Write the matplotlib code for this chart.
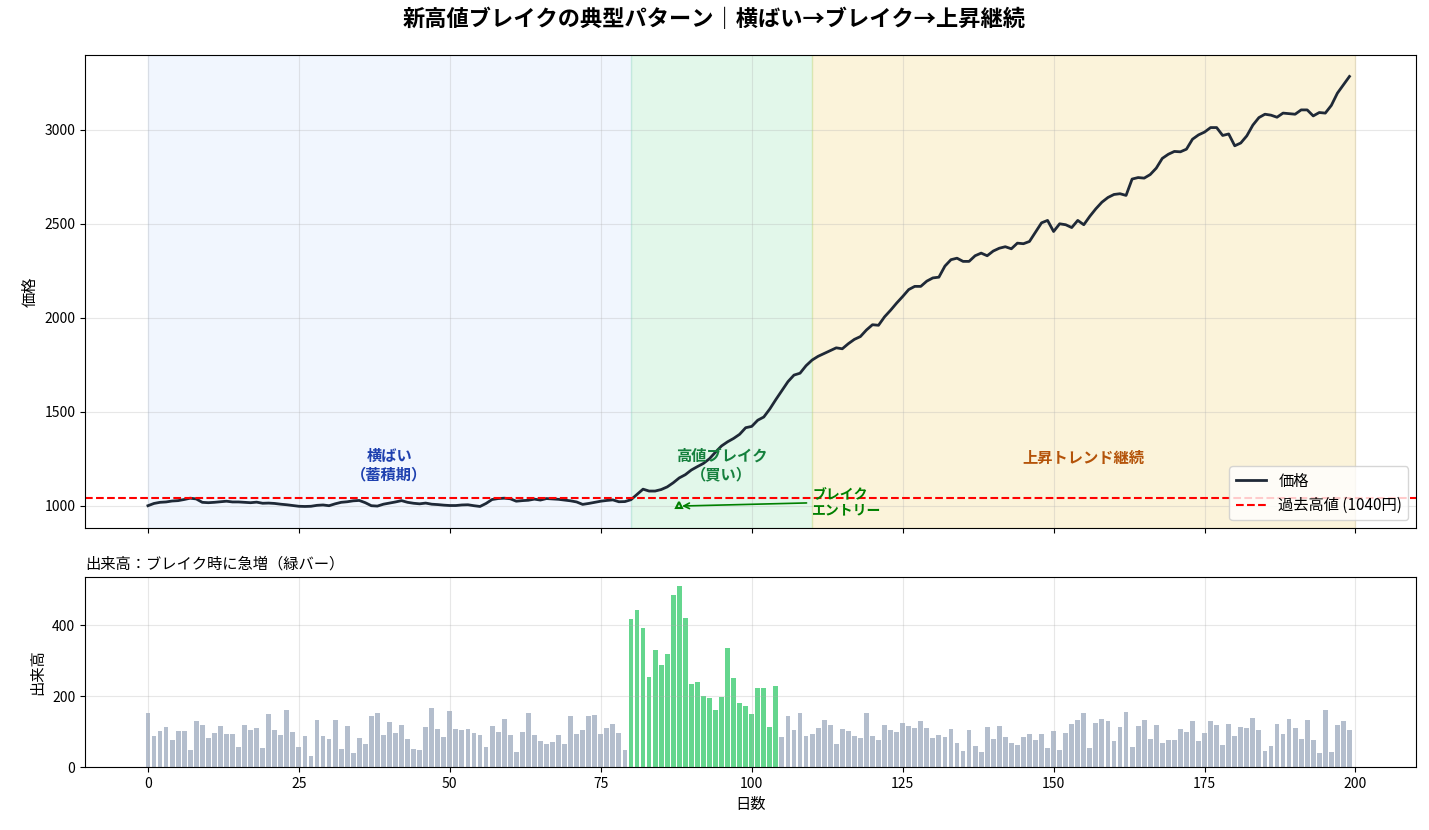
import numpy as np
import matplotlib
matplotlib.use("Agg")
import matplotlib.pyplot as plt
from matplotlib.ticker import MultipleLocator

plt.rcParams['font.family'] = ['Noto Sans CJK JP', 'DejaVu Sans']
plt.rcParams['axes.unicode_minus'] = False

# price (days 0-199)
price = [
    1000, 1012, 1018, 1020, 1025, 1027, 1033, 1040, 1036, 1018,
    1016, 1018, 1021, 1024, 1020, 1020, 1018, 1016, 1019, 1013,
    1014, 1012, 1008, 1005, 1001, 997, 996, 997, 1002, 1004,
    1000, 1010, 1018, 1021, 1026, 1028, 1016, 1000, 998, 1008,
    1014, 1020, 1027, 1018, 1013, 1010, 1014, 1008, 1006, 1003,
    1001, 1001, 1004, 1005, 1000, 996, 1012, 1033, 1038, 1040,
    1037, 1024, 1027, 1029, 1035, 1030, 1038, 1036, 1034, 1030,
    1026, 1020, 1007, 1012, 1018, 1024, 1028, 1031, 1021, 1022,
    1032, 1060, 1088, 1078, 1078, 1086, 1100, 1122, 1148, 1165,
    1190, 1208, 1225, 1250, 1285, 1318, 1340, 1358, 1380, 1415,
    1422, 1455, 1472, 1515, 1565, 1612, 1660, 1695, 1705, 1745,
    1775, 1795, 1810, 1825, 1840, 1835, 1862, 1885, 1900, 1935,
    1963, 1960, 2005, 2040, 2078, 2113, 2150, 2167, 2167, 2195,
    2212, 2216, 2275, 2309, 2317, 2300, 2300, 2330, 2344, 2330,
    2355, 2370, 2378, 2367, 2397, 2394, 2406, 2455, 2505, 2518,
    2459, 2500, 2495, 2480, 2518, 2495, 2540, 2580, 2615, 2640,
    2656, 2660, 2651, 2738, 2746, 2743, 2762, 2796, 2848, 2870,
    2885, 2883, 2897, 2950, 2973, 2988, 3012, 3012, 2970, 2978,
    2915, 2930, 2968, 3025, 3065, 3083, 3078, 3067, 3089, 3086,
    3083, 3106, 3106, 3074, 3092, 3089, 3130, 3195, 3240, 3284,
]

volume = [
    152, 87, 101, 112, 75, 101, 101, 47, 129, 118,
    81, 95, 115, 92, 92, 56, 118, 104, 109, 53,
    149, 104, 90, 160, 98, 56, 87, 30, 132, 87,
    78, 132, 50, 115, 39, 81, 64, 143, 152, 90,
    126, 95, 118, 78, 50, 47, 112, 166, 107, 84,
    157, 107, 104, 107, 95, 90, 56, 115, 98, 135,
    90, 41, 98, 152, 90, 73, 64, 70, 90, 64,
    143, 92, 104, 143, 146, 92, 109, 121, 95, 47,
    418, 443, 392, 254, 330, 288, 319, 486, 511, 421,
    234, 240, 200, 194, 160, 197, 336, 251, 180, 172,
    149, 223, 223, 112, 228, 84, 143, 104, 152, 87,
    92, 109, 132, 118, 64, 107, 101, 87, 81, 152,
    87, 75, 118, 104, 98, 124, 115, 109, 129, 109,
    81, 90, 84, 107, 67, 44, 104, 58, 41, 112,
    78, 115, 84, 67, 61, 84, 92, 75, 92, 53,
    101, 47, 95, 121, 132, 152, 53, 124, 135, 129,
    73, 112, 155, 56, 115, 132, 78, 118, 67, 75,
    75, 107, 98, 129, 73, 95, 129, 118, 61, 121,
    87, 112, 109, 138, 104, 44, 58, 121, 92, 135,
    109, 78, 132, 75, 39, 160, 41, 118, 129, 104,
]

prev_high = 1040
break_start, break_end = 80, 110
green_end = 104

days = np.arange(len(price))
vol_colors = ['#22c55e' if break_start <= d <= green_end else '#94a3b8' for d in days]

fig = plt.figure(figsize=(14.29, 8.3), dpi=100)
ax1 = fig.add_axes([0.0595, 0.3639, 0.9314, 0.5699])
ax2 = fig.add_axes([0.0595, 0.0759, 0.9314, 0.2289], sharex=ax1)

ax1.axvspan(0, break_start, color='#3b82f6', alpha=0.07)
ax1.axvspan(break_start, break_end, color='#22c55e', alpha=0.13)
ax1.axvspan(break_end, 200, color='#eab308', alpha=0.15)

ax1.plot(days, price, color='#1f2937', lw=2, label='価格')
ax1.axhline(prev_high, color='red', ls='--', lw=1.5, label=f'過去高値 ({prev_high}円)')

ax1.text(40, 1215, '横ばい\n（蓄積期）', ha='center', va='center', fontsize=11,
         fontweight='bold', color='#1e40af')
ax1.text(95, 1215, '高値ブレイク\n（買い）', ha='center', va='center', fontsize=11,
         fontweight='bold', color='#15803d')
ax1.text(155, 1255, '上昇トレンド継続', ha='center', va='center', fontsize=11,
         fontweight='bold', color='#b45309')
ax1.annotate('ブレイク\nエントリー', xy=(88, 998), xytext=(110, 1020),
             fontsize=10, fontweight='bold', color='green', va='center',
             arrowprops=dict(arrowstyle='->', color='green', lw=1.2))
ax1.plot(88, 1003, marker='^', ms=5, mfc='none', mec='green', mew=1.5)

ax1.set_ylabel('価格', fontsize=11)
ax1.grid(alpha=0.3)
ax1.legend(loc='lower right', fontsize=11)
plt.setp(ax1.get_xticklabels(), visible=False)

ax2.bar(days, volume, color=vol_colors, alpha=0.7)
ax2.yaxis.set_major_locator(MultipleLocator(200))
ax2.set_ylabel('出来高', fontsize=11)
ax2.set_xlabel('日数', fontsize=11)
ax2.set_title('出来高：ブレイク時に急増（緑バー）', loc='left', fontsize=11)
ax2.grid(alpha=0.3)

fig.suptitle('新高値ブレイクの典型パターン｜横ばい→ブレイク→上昇継続', fontsize=16,
             fontweight='bold', y=0.99)

fig.savefig('out.png', dpi=100)
